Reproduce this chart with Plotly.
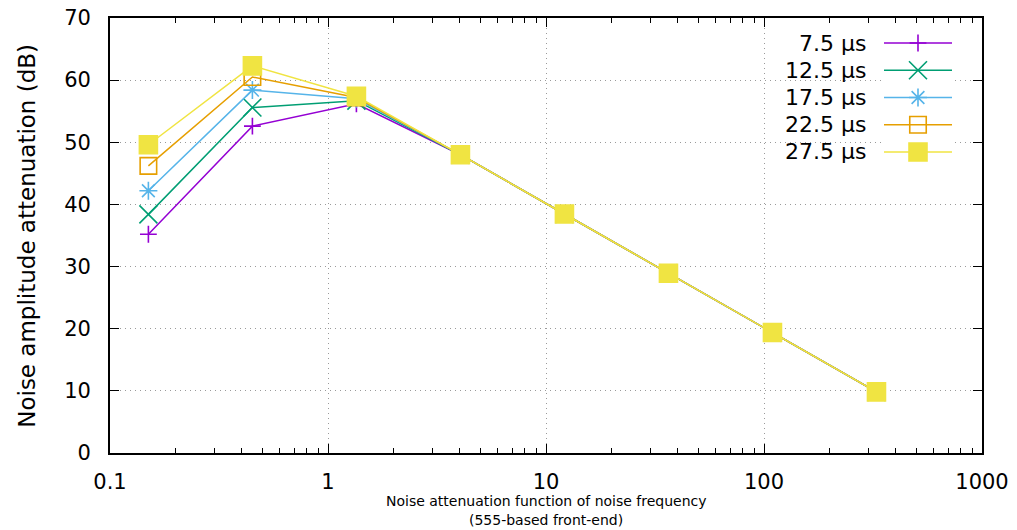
import plotly.graph_objects as go

# Noise frequency points (log-spaced by a factor of 3)
freq = [0.15, 0.45, 1.35, 4.05, 12.15, 36.45, 109.35, 328.05]

# Attenuation (dB) for each time constant
series_names = ["7.5 µs", "12.5 µs", "17.5 µs", "22.5 µs", "27.5 µs"]
att_7_5 = [35.2, 52.6, 56.2, 48.0, 38.46, 28.92, 19.38, 9.84]
att_12_5 = [38.4, 55.6, 56.7, 48.0, 38.46, 28.92, 19.38, 9.84]
att_17_5 = [42.2, 58.4, 57.0, 48.0, 38.46, 28.92, 19.38, 9.84]
att_22_5 = [46.2, 60.5, 57.2, 48.0, 38.46, 28.92, 19.38, 9.84]
att_27_5 = [49.6, 62.3, 57.4, 48.0, 38.46, 28.92, 19.38, 9.84]
series_values = [att_7_5, att_12_5, att_17_5, att_22_5, att_27_5]

x_tick_vals = [0.1, 1, 10, 100, 1000]
x_tick_text = ["0.1", "1", "10", "100", "1000"]
y_tick_vals = [0, 10, 20, 30, 40, 50, 60, 70]

x_title_lines = ["Noise attenuation function of noise frequency", "(555-based front-end)"]
y_title = "Noise amplitude attenuation (dB)"

colors = ["#9400d3", "#009e73", "#56b4e9", "#e69f00", "#f0e442"]
symbols = ["cross-thin", "x-thin", "asterisk", "square-open", "square"]
sizes = [12, 18, 15, 16.5, 18]

FONT = "DejaVu Sans"
GRID = dict(showgrid=True, gridcolor="#9a9a9a", griddash="1px,4px", gridwidth=1)

fig = go.Figure()

for name, vals, col, sym, sz in zip(series_names, series_values, colors, symbols, sizes):
    fig.add_trace(go.Scatter(
        x=freq, y=vals, name=name, mode="lines+markers",
        line=dict(color=col, width=1.5),
        marker=dict(symbol=sym, size=sz, color=col,
                    line=dict(color=col, width=1.6)),
        showlegend=False, xaxis="x", yaxis="y",
    ))

# Key: text on the left, line sample with symbol on the right
for i, (name, col, sym, sz) in enumerate(zip(series_names, colors, symbols, sizes)):
    fig.add_trace(go.Scatter(
        x=[0, 1], y=[i, i], mode="lines",
        line=dict(color=col, width=1.5),
        showlegend=False, hoverinfo="skip", xaxis="x2", yaxis="y2",
    ))
    fig.add_trace(go.Scatter(
        x=[0.5], y=[i], mode="markers",
        marker=dict(symbol=sym, size=sz, color=col,
                    line=dict(color=col, width=1.6)),
        showlegend=False, hoverinfo="skip", xaxis="x2", yaxis="y2",
    ))
    fig.add_annotation(
        text=name, xref="paper", yref="y2", x=0.869, y=i,
        xanchor="right", yanchor="middle", showarrow=False,
        font=dict(family=FONT, size=22, color="black"),
    )

# White box behind the key hides the grid there
fig.add_shape(type="rect", xref="paper", yref="paper",
              x0=0.737, x1=1.0, y0=0.653, y1=1.0,
              fillcolor="white", line=dict(width=0), layer="between")

# Axis titles
fig.add_annotation(text=x_title_lines[0], xref="paper", yref="paper",
                   x=0.5, y=-0.1321, xanchor="center", yanchor="bottom", borderpad=0,
                   showarrow=False, font=dict(family=FONT, size=14, color="black"))
fig.add_annotation(text=x_title_lines[1], xref="paper", yref="paper",
                   x=0.5, y=-0.1344, xanchor="center", yanchor="top", borderpad=0,
                   showarrow=False, font=dict(family=FONT, size=14, color="black"))
fig.add_annotation(text=y_title, xref="paper", yref="paper",
                   x=-0.096, y=0.5, xanchor="center", yanchor="middle", textangle=-90,
                   showarrow=False, font=dict(family=FONT, size=23, color="black"))

fig.update_layout(
    width=1017, height=530,
    margin=dict(l=110, r=35, t=18, b=77),
    paper_bgcolor="white", plot_bgcolor="white",
    font=dict(family=FONT, size=21, color="black"),
    xaxis=dict(
        type="log", range=[-1, 3],
        tickvals=x_tick_vals, ticktext=x_tick_text,
        ticks="inside", ticklen=9, tickwidth=1.2, tickcolor="black",
        minor=dict(ticks="inside", ticklen=5, tickwidth=1.2, tickcolor="black",
                   dtick="D1", showgrid=False),
        showline=True, linecolor="black", linewidth=1.8, mirror="allticks",
        zeroline=False, ticklabelstandoff=9, automargin=False,
        tickfont=dict(size=21),
        **GRID,
    ),
    yaxis=dict(
        range=[0, 70], tickvals=y_tick_vals,
        ticks="inside", ticklen=9, tickwidth=1.2, tickcolor="black",
        showline=True, linecolor="black", linewidth=1.8, mirror="allticks",
        zeroline=False, ticklabelstandoff=13, automargin=False,
        tickfont=dict(size=21),
        **GRID,
    ),
    xaxis2=dict(domain=[0.8876, 0.9656], range=[0, 1], visible=False, anchor="y2"),
    yaxis2=dict(domain=[0.6607, 0.9738], range=[4.5, -0.5], visible=False, anchor="x2"),
)

fig.write_html("out.html")
